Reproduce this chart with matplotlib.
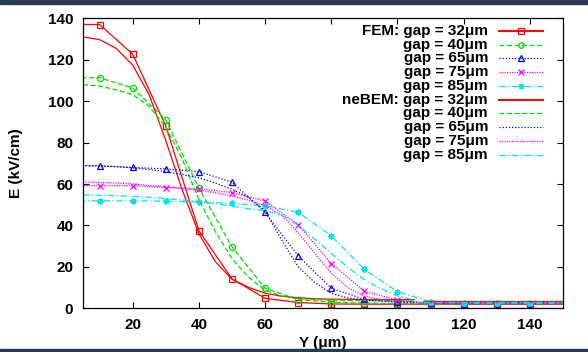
import numpy as np
import matplotlib
matplotlib.use("Agg")
import matplotlib.pyplot as plt
from matplotlib.patches import Rectangle

plt.rcParams['font.family'] = ['Liberation Sans', 'DejaVu Sans']
plt.rcParams['font.weight'] = 'bold'

# FEM results (one point every 10 um, end points sit on/outside the frame)
fem_y = [0, 10, 20, 30, 40, 50, 60, 70, 80, 90, 100, 110, 120, 130, 140, 150]
fem_32 = [137, 137, 122.7, 88, 37.5, 14.2, 4.8, 2.8, 2.1, 2, 2, 2, 2, 2, 2, 2]
fem_40 = [111.3, 111.3, 106.4, 91, 58, 29.7, 9.7, 4.2, 3, 2.5, 2.3, 2.3, 2.3, 2.3, 2.3, 2.3]
fem_65 = [68.7, 68.7, 68, 67.3, 66, 60.9, 46.3, 25.3, 9.7, 4.3, 3, 2.5, 2.3, 2.3, 2.3, 2.3]
fem_75 = [59.2, 59.2, 59.2, 58.3, 57.8, 55.8, 51.8, 40.4, 21.6, 8.2, 4, 2.6, 2.3, 2.3, 2.3, 2.3]
fem_85 = [51.9, 51.9, 51.9, 51.7, 51.3, 50.6, 49.5, 46.4, 35, 18.8, 8, 3.2, 2.5, 2.4, 2.4, 2.4]

# neBEM results (second run starts just after 105 um)
neb_y = [5, 10, 15, 20, 25, 30, 35, 40, 45, 50, 55, 60, 65, 70, 75, 80, 85, 90,
         95, 100, 105, 106, 108, 150]
neb_32 = [131, 129.7, 125.5, 117.5, 103, 81, 57, 36, 22.5, 14, 10.1, 7.3, 5.8, 5.1,
          4.6, 4.4, 4.3, 4.2, 4.2, 4.2, 4.2, np.nan, 3.3, 3.3]
neb_40 = [108, 107.3, 105.5, 103.2, 97.5, 87.5, 72, 52.5, 37, 24, 15, 8.8, 6, 4.7,
          4.2, 4, 3.8, 3.7, 3.6, 3.5, 3.5, np.nan, 2.9, 2.9]
neb_65 = [69, 68.8, 68.4, 67.8, 67, 66, 64.6, 63, 60.5, 57.5, 53.5, 47, 33, 20,
          12.5, 7.2, 5, 4, 3.5, 3.2, 3, np.nan, 2.8, 2.8]
neb_75 = [61, 60.8, 60.5, 60, 59.3, 58.6, 57.8, 57, 55.8, 54.2, 52.2, 49.5, 45, 36.5,
          26.5, 17, 10, 5.8, 4.2, 3.5, 3.1, np.nan, 2.8, 2.8]
neb_85 = [54.7, 54.6, 54.4, 54, 53.6, 53, 52.3, 51.5, 50.5, 49.3, 48, 47.2, 45, 40,
          33.5, 26.5, 19.8, 13.8, 9.5, 6, 4, np.nan, 2.8, 2.8]

gap_labels = ['gap = 32\u03bcm', 'gap = 40\u03bcm', 'gap = 65\u03bcm',
              'gap = 75\u03bcm', 'gap = 85\u03bcm']

colors = ['#ff0000', '#00dd00', '#0000ff', '#ff00ff', '#00e5e5']
styles = ['-', (0, (4, 2)), (0, (1, 1.5)), (0, (1, 1)), (0, (5, 2, 1, 2))]
markers = ['s', 'o', '^', 'x', (8, 2, 0)]

fem_sets = [fem_32, fem_40, fem_65, fem_75, fem_85]
neb_sets = [neb_32, neb_40, neb_65, neb_75, neb_85]

FS = 11

fig = plt.figure(figsize=(5.88, 3.52), dpi=100)
ax = fig.add_axes([83 / 588, 1 - 308.3 / 352, 480 / 588, 290 / 352])

for vals, c, ls, mk in zip(fem_sets, colors, styles, markers):
    ax.plot(fem_y, vals, color=c, ls=ls, lw=0.9, marker=mk, ms=4.5,
            mfc='none', mec=c, mew=0.9, markevery=slice(1, -1))
for vals, c, ls in zip(neb_sets, colors, styles):
    ax.plot(neb_y, vals, color=c, ls=ls, lw=0.9)

ax.set_xlim(5, 150)
ax.set_ylim(0, 140)
ax.set_xticks([20, 40, 60, 80, 100, 120, 140])
ax.set_yticks(range(0, 141, 20))
ax.tick_params(direction='in', length=4, width=0.8, top=True, right=True,
               labelsize=FS, pad=7)
for lab in ax.get_xticklabels() + ax.get_yticklabels():
    lab.set_fontweight('bold')
for sp in ax.spines.values():
    sp.set_linewidth(0.9)

ax.set_xlabel('Y (\u03bcm)', fontsize=FS, fontweight='bold')
ax.set_ylabel('E (kV/cm)', fontsize=FS, fontweight='bold')
ax.xaxis.set_label_coords(0.5, -0.095)
ax.yaxis.set_label_coords(-0.125, 0.5)

# gnuplot-style key: right-aligned text, sample line to its right
row_h = 13.8 / 290
text_x = (488 - 83) / 480
line_x0 = (499 - 83) / 480
line_x1 = (543 - 83) / 480
mark_x = (521 - 83) / 480
y0 = (308.3 - 30.7) / 290
for i in range(10):
    k = i % 5
    y = y0 - i * row_h
    label = gap_labels[k]
    if i == 0:
        label = 'FEM: ' + label
    elif i == 5:
        label = 'neBEM: ' + label
    ax.text(text_x, y, label, transform=ax.transAxes, ha='right', va='center',
            fontsize=FS, fontweight='bold')
    ax.plot([line_x0, line_x1], [y, y], transform=ax.transAxes, color=colors[k],
            ls=styles[k], lw=1.4 if k == 0 else 0.9, clip_on=False)
    if i < 5:
        ax.plot([mark_x], [y], transform=ax.transAxes, marker=markers[k], ms=4,
                mfc='none', mec=colors[k], mew=0.9, clip_on=False)

# dark strips along the top and bottom edges
fig.patches.append(Rectangle((0, 1 - 3.5 / 352), 1, 3.5 / 352, transform=fig.transFigure,
                             color='#2b3852', zorder=10))
fig.patches.append(Rectangle((0, 0), 1, 3.5 / 352, transform=fig.transFigure,
                             color='#2b3852', zorder=10))

fig.savefig('out.png', dpi=100)
